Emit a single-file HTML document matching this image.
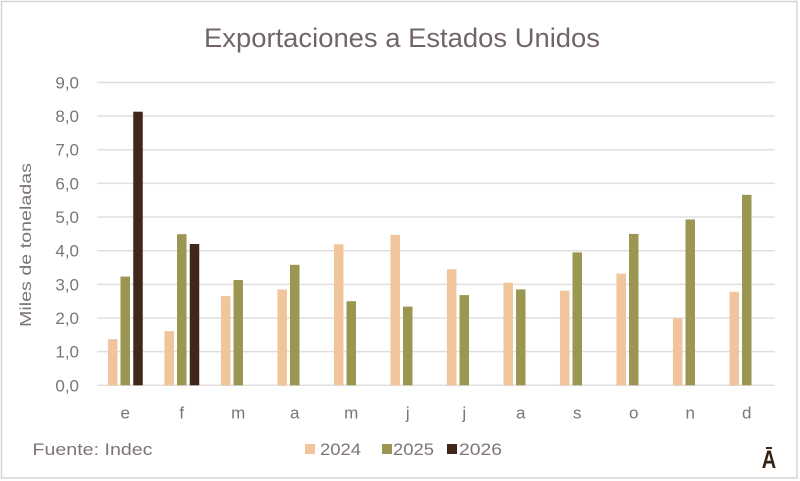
<!DOCTYPE html>
<html><head><meta charset="utf-8"><style>
html,body{margin:0;padding:0;background:#fff;}
svg{display:block;}
text{font-family:"Liberation Sans",sans-serif;}
</style></head><body>
<svg width="800" height="481" viewBox="0 0 800 481" xmlns="http://www.w3.org/2000/svg">
<rect x="0" y="0" width="800" height="481" fill="#fff"/>
<rect x="1.5" y="1.5" width="795.5" height="476.5" fill="none" stroke="#d6d4d4" stroke-width="1.5"/>
<text x="402" y="47" font-size="27" fill="#716567" text-anchor="middle" textLength="396" lengthAdjust="spacingAndGlyphs">Exportaciones a Estados Unidos</text>
<g stroke="#e0dede" stroke-width="1.5">
<line x1="97" x2="775" y1="385.3" y2="385.3"/>
<line x1="97" x2="775" y1="351.65" y2="351.65"/>
<line x1="97" x2="775" y1="318" y2="318"/>
<line x1="97" x2="775" y1="284.35" y2="284.35"/>
<line x1="97" x2="775" y1="250.7" y2="250.7"/>
<line x1="97" x2="775" y1="217.05" y2="217.05"/>
<line x1="97" x2="775" y1="183.4" y2="183.4"/>
<line x1="97" x2="775" y1="149.75" y2="149.75"/>
<line x1="97" x2="775" y1="116.1" y2="116.1"/>
<line x1="97" x2="775" y1="82.45" y2="82.45"/>
</g>
<g font-size="17" fill="#7d7475" text-anchor="end">
<text x="79" y="391.3">0,0</text>
<text x="79" y="357.6">1,0</text>
<text x="79" y="324">2,0</text>
<text x="79" y="290.3">3,0</text>
<text x="79" y="256.7">4,0</text>
<text x="79" y="223">5,0</text>
<text x="79" y="189.4">6,0</text>
<text x="79" y="155.7">7,0</text>
<text x="79" y="122.1">8,0</text>
<text x="79" y="88.4">9,0</text>
</g>
<text transform="translate(31,245) rotate(-90)" font-size="16" fill="#7d7475" text-anchor="middle" textLength="164" lengthAdjust="spacingAndGlyphs">Miles de toneladas</text>
<g fill="#f0c59c">
<rect x="107.95" y="339.2" width="9.5" height="46.1"/>
<rect x="164.45" y="331.1" width="9.5" height="54.2"/>
<rect x="220.95" y="296.1" width="9.5" height="89.2"/>
<rect x="277.45" y="289.4" width="9.5" height="95.9"/>
<rect x="333.95" y="244.3" width="9.5" height="141"/>
<rect x="390.45" y="234.9" width="9.5" height="150.4"/>
<rect x="446.95" y="269.2" width="9.5" height="116.1"/>
<rect x="503.45" y="282.7" width="9.5" height="102.6"/>
<rect x="559.95" y="290.7" width="9.5" height="94.6"/>
<rect x="616.45" y="273.6" width="9.5" height="111.7"/>
<rect x="672.95" y="318.3" width="9.5" height="67"/>
<rect x="729.45" y="291.8" width="9.5" height="93.5"/>
</g>
<g fill="#9b9652">
<rect x="120.5" y="276.6" width="9.5" height="108.7"/>
<rect x="177" y="234.2" width="9.5" height="151.1"/>
<rect x="233.5" y="280" width="9.5" height="105.3"/>
<rect x="290" y="264.8" width="9.5" height="120.5"/>
<rect x="346.5" y="301.2" width="9.5" height="84.1"/>
<rect x="403" y="306.6" width="9.5" height="78.7"/>
<rect x="459.5" y="295.1" width="9.5" height="90.2"/>
<rect x="516" y="289.4" width="9.5" height="95.9"/>
<rect x="572.5" y="252.4" width="9.5" height="132.9"/>
<rect x="629" y="233.9" width="9.5" height="151.4"/>
<rect x="685.5" y="219.4" width="9.5" height="165.9"/>
<rect x="742" y="194.8" width="9.5" height="190.5"/>
</g>
<g fill="#41261a">
<rect x="133.25" y="111.7" width="9.5" height="273.6"/>
<rect x="189.75" y="244" width="9.5" height="141.3"/>
</g>
<g font-size="17" fill="#7d7475" text-anchor="middle">
<text x="125.25" y="418.5">e</text>
<text x="181.75" y="418.5">f</text>
<text x="238.25" y="418.5">m</text>
<text x="294.75" y="418.5">a</text>
<text x="351.25" y="418.5">m</text>
<text x="407.75" y="418.5">j</text>
<text x="464.25" y="418.5">j</text>
<text x="520.75" y="418.5">a</text>
<text x="577.25" y="418.5">s</text>
<text x="633.75" y="418.5">o</text>
<text x="690.25" y="418.5">n</text>
<text x="746.75" y="418.5">d</text>
</g>
<text x="32.5" y="455" font-size="17" fill="#7d7475" textLength="120" lengthAdjust="spacingAndGlyphs">Fuente: Indec</text>
<rect x="305" y="444" width="10" height="10" fill="#f0c59c"/>
<text x="320" y="455" font-size="17" fill="#7d7475" textLength="41" lengthAdjust="spacingAndGlyphs">2024</text>
<rect x="382" y="444" width="10" height="10" fill="#9b9652"/>
<text x="393" y="455" font-size="17" fill="#7d7475" textLength="41" lengthAdjust="spacingAndGlyphs">2025</text>
<rect x="447" y="444" width="10" height="10" fill="#41261a"/>
<text x="459" y="455" font-size="17" fill="#7d7475" textLength="43" lengthAdjust="spacingAndGlyphs">2026</text>
<text transform="translate(769,468) scale(0.8,1)" x="0" y="0" font-size="25" font-weight="bold" fill="#3b2313" text-anchor="middle">Ā</text>
</svg>
</body></html>
